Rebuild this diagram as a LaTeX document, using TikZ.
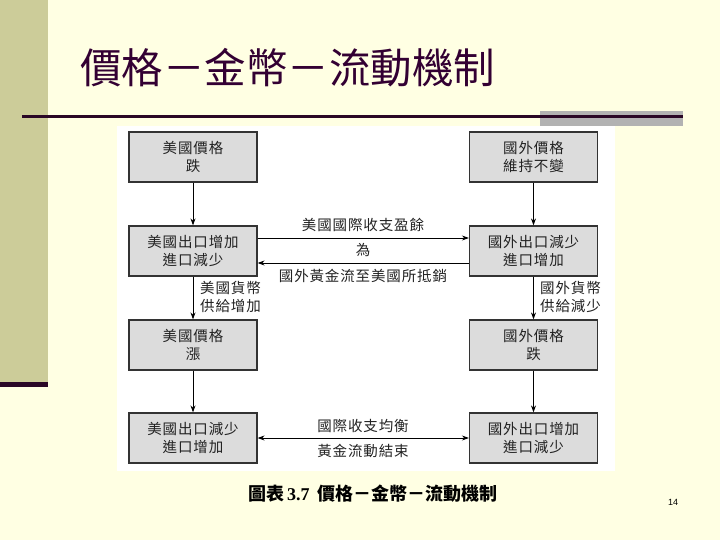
\documentclass[tikz,border=0pt]{standalone}
\usepackage{fontspec}
\setmainfont{Liberation Serif}
\newfontfamily\cjk[LetterSpace=6]{Noto Sans CJK TC}
\newfontfamily\cjktitle{Noto Sans CJK TC}
\newfontfamily\cjkcap{Noto Sans CJK TC}
\newfontfamily\pgnum{Liberation Sans}
\usetikzlibrary{arrows.meta}
\definecolor{bg}{HTML}{FFFFE3}
\definecolor{side}{HTML}{CCCC99}
\definecolor{darkp}{HTML}{2A0726}
\definecolor{greybar}{HTML}{B2B2B2}
\definecolor{titlec}{HTML}{330033}
\definecolor{boxfill}{HTML}{DCDCDC}
\definecolor{boxline}{HTML}{333333}
\definecolor{txt}{HTML}{222222}
\tikzset{
  flowbox/.style={draw=boxline, line width=1.2pt, fill=boxfill, minimum width=128pt, minimum height=50pt, inner sep=0pt, align=center, text=txt, font=\cjk\fontsize{14.5}{18}\selectfont},
  lbl/.style={inner sep=0pt, text=txt, font=\cjk\fontsize{14.5}{18}\selectfont},
  arr/.style={draw=black, line width=0.9pt, -{Stealth[length=7pt,width=5pt]}},
  darr/.style={draw=black, line width=0.9pt, {Stealth[length=7pt,width=5pt]}-{Stealth[length=7pt,width=5pt]}}
}
\begin{document}
\begin{tikzpicture}[x=1pt,y=-1pt]
\useasboundingbox (0,0) rectangle (720,540);
\fill[bg] (0,0) rectangle (720,540);
\fill[side] (0,0) rectangle (48,382);
\fill[darkp] (0,382) rectangle (48,387);
\fill[greybar] (540,111) rectangle (683,126);
\fill[darkp] (22,115) rectangle (683,118.5);
\fill[white] (117,126) rectangle (615,471);
\node[anchor=west, inner sep=0pt, text=titlec, font=\cjktitle\fontsize{41.5}{41.5}\selectfont] (title) at (80,68) {價格－金幣－流動機制};

\node[flowbox] (a1) at (193,157) {美國價格\\跌};
\node[flowbox] (b1) at (533.5,157) {國外價格\\維持不變};
\node[flowbox] (a2) at (193,251) {美國出口增加\\進口減少};
\node[flowbox] (b2) at (533.5,251) {國外出口減少\\進口增加};
\node[flowbox] (a3) at (193,345) {美國價格\\漲};
\node[flowbox] (b3) at (533.5,345) {國外價格\\跌};
\node[flowbox] (a4) at (193,438) {美國出口減少\\進口增加};
\node[flowbox] (b4) at (533.5,438) {國外出口增加\\進口減少};

\draw[arr] (a1) -- (a2);
\draw[arr] (a2) -- (a3);
\draw[arr] (a3) -- (a4);
\draw[arr] (b1) -- (b2);
\draw[arr] (b2) -- (b3);
\draw[arr] (b3) -- (b4);
\draw[arr] ([yshift=13pt]a2.east) -- ([yshift=13pt]b2.west);
\draw[arr] ([yshift=-12pt]b2.west) -- ([yshift=-12pt]a2.east);
\draw[darr] (a4) -- (b4);

\node[lbl] (l1) at (363,225) {美國國際收支盈餘};
\node[lbl] (l2) at (363,250) {為};
\node[lbl] (l3) at (363,276) {國外黃金流至美國所抵銷};
\node[lbl] (l4) at (363,426) {國際收支均衡};
\node[lbl] (l5) at (363,451) {黃金流動結束};
\node[lbl, anchor=west, align=left] (s1) at (200,297) {美國貨幣\\供給增加};
\node[lbl, anchor=west, align=left] (s2) at (540,297) {國外貨幣\\供給減少};

\node[anchor=west, inner sep=0pt, font=\bfseries\fontsize{18}{18}\selectfont] (cap) at (248,494) {{\cjkcap\bfseries 圖表}\,3.7\hspace{8pt}{\cjkcap\bfseries 價格－金幣－流動機制}};
\node[inner sep=0pt, font=\pgnum\fontsize{9}{9}\selectfont] (pg) at (673,502) {14};
\end{tikzpicture}
\end{document}
